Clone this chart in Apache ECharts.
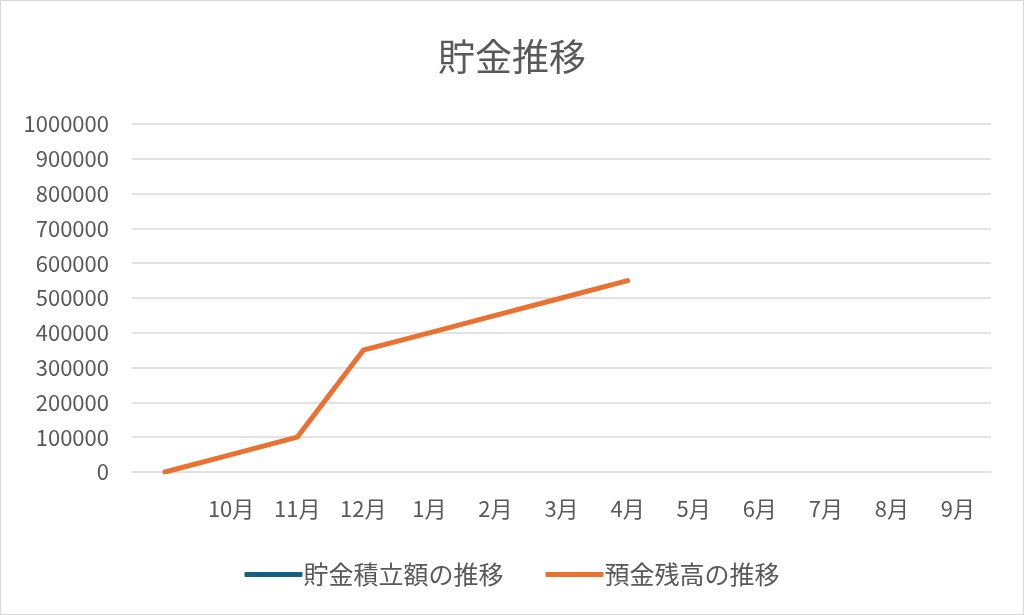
<!DOCTYPE html>
<html>
<head>
<meta charset="utf-8">
<script src="https://cdn.jsdelivr.net/npm/echarts@6/dist/echarts.min.js"></script>
<style>
html,body{margin:0;padding:0;background:#fff;}
#c{position:absolute;left:0;top:0;width:1022px;height:613px;border:1px solid #d9d9d9;}
</style>
</head>
<body>
<div id="c"></div>
<script>
const categories = ['', '10月', '11月', '12月', '1月', '2月', '3月', '4月', '5月', '6月', '7月', '8月', '9月'];
const savingsPlan = [null, null, null, null, null, null, null, null, null, null, null, null, null];
const depositBalance = [0, 50000, 100000, 350000, 400000, 450000, 500000, 550000, null, null, null, null, null];
const yTicks = { min: 0, max: 1000000, interval: 100000 };

const font = '"Noto Sans CJK JP", "Noto Sans", sans-serif';
const chart = echarts.init(document.getElementById('c'));
chart.setOption({
  animation: false,
  backgroundColor: '#fff',
  title: {
    text: '貯金推移',
    left: 'center',
    top: 32,
    textStyle: { fontFamily: font, fontSize: 37, fontWeight: 'normal', color: '#595959' }
  },
  legend: {
    bottom: 22,
    left: 'center',
    itemWidth: 58,
    itemHeight: 5,
    itemGap: 42,
    icon: 'roundRect',
    textStyle: { fontFamily: font, fontSize: 25, color: '#595959', padding: [0, 0, 0, -4] },
    data: ['貯金積立額の推移', '預金残高の推移']
  },
  grid: { left: 131, right: 32, top: 123, bottom: 142, containLabel: false },
  xAxis: {
    type: 'category',
    data: categories,
    boundaryGap: true,
    axisLine: { show: false },
    axisTick: { show: false },
    axisLabel: { fontFamily: font, fontSize: 22, color: '#595959', margin: 26, interval: 0 }
  },
  yAxis: {
    type: 'value',
    min: yTicks.min,
    max: yTicks.max,
    interval: yTicks.interval,
    axisLine: { show: false },
    axisTick: { show: false },
    axisLabel: { fontFamily: font, fontSize: 22, color: '#595959', margin: 23, formatter: v => String(v) },
    splitLine: { lineStyle: { color: '#d9d9d9', width: 1.5 } }
  },
  series: [
    {
      name: '貯金積立額の推移',
      type: 'line',
      data: savingsPlan,
      color: '#156082',
      showSymbol: false,
      lineStyle: { width: 5, cap: 'round', join: 'round' }
    },
    {
      name: '預金残高の推移',
      type: 'line',
      data: depositBalance,
      color: '#E97132',
      showSymbol: false,
      lineStyle: { width: 5, cap: 'round', join: 'round' }
    }
  ]
});
</script>
</body>
</html>
